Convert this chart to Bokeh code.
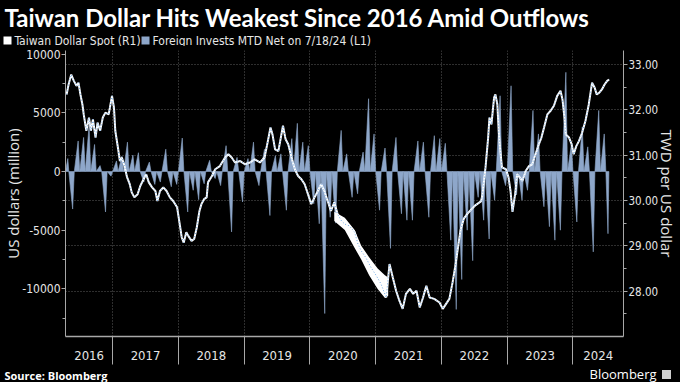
from bokeh.plotting import figure
from bokeh.models import (Range1d, LinearAxis, FixedTicker, Grid,
                          ColumnDataSource, CustomJSTickFormatter, PrintfTickFormatter)
from bokeh.core.properties import value
from bokeh.embed import file_html
from bokeh.resources import INLINE

# ---------------- data ----------------
TITLE = "Taiwan Dollar Hits Weakest Since 2016 Amid Outflows"
SERIES_TWD = "Taiwan Dollar Spot  (R1)"
SERIES_FLOW = "Foreign Invests MTD Net on 7/18/24 (L1)"
LEFT_LABEL = "US dollars (million)"
RIGHT_LABEL = "TWD per US dollar"
SOURCE = "Source: Bloomberg"
BRAND = "Bloomberg"

year_labels = ["2016", "2017", "2018", "2019", "2020", "2021", "2022", "2023", "2024"]
left_ticks = [-10000, -5000, 0, 5000, 10000]
left_minor = [-12500, -7500, -2500, 2500, 7500]
right_ticks = [28, 29, 30, 31, 32, 33]
right_minor = [27.5, 28.5, 29.5, 30.5, 31.5, 32.5]

x_start, x_end = 2016.283, 2024.768          # axis span (decimal years)
data_start, data_end = 2016.283, 2024.546    # 14 Apr 2016 .. 18 Jul 2024
left_lo, left_hi = -14058, 10307
right_lo, right_hi = 27.0, 33.31

flow_first_year, flow_first_month = 2016, 4
flow_mtd = [
    1100, -3200, 2600, 2900, 3900, 2300, 500, -3450, -400,
    900, 1300, 2500, 1400, 1600, -900, 800, -1100, -900, 1900, -1300, -1100,
    2850, -3450, -1600, -2400, -1050, 950, -600, -1200, 2200, -5150, 1200, -2600,
    1100, 2500, -1200, 1900, -3750, 1350, 1500, -3300, 2800, 4100, 2500, 2200,
    -2750, -4450, -12100, -3900, -4400, 3500, 1500, -2200, -1900, 1650, 6200, 3200,
    -3300, 2000, -6550, 2900, -3600, -4150, -4150, 2600, 2500, -3900, 3050, 2800,
    2400, -5850, -11750, -9200, -5000, -7600, -2200, -4150, -5750, -2450, 6450, -1200,
    7300, -2000, -2450, -1600, 5200, 3200, -3000, -4700, -5850, -5000, 8450, 2300,
    -4300, 3800, 2100, -6850, 5200, 3200, -5300,
]

twd_t = [
    2016.30, 2016.33, 2016.37, 2016.41, 2016.45, 2016.48, 2016.51, 2016.54, 2016.56, 2016.60,
    2016.64, 2016.67, 2016.70, 2016.74, 2016.77, 2016.81, 2016.85, 2016.89, 2016.94, 2016.99,
    2017.02, 2017.04, 2017.08, 2017.11, 2017.14, 2017.18, 2017.22, 2017.26, 2017.29, 2017.33,
    2017.38, 2017.42, 2017.47, 2017.51, 2017.55, 2017.60, 2017.65, 2017.68, 2017.72, 2017.77,
    2017.82, 2017.87, 2017.92, 2017.98,
    2018.02, 2018.05, 2018.08, 2018.12, 2018.15, 2018.20, 2018.24, 2018.28, 2018.32, 2018.35,
    2018.39, 2018.43, 2018.45, 2018.51, 2018.56, 2018.63, 2018.71, 2018.76, 2018.81, 2018.86,
    2018.94,
    2019.01, 2019.09, 2019.16, 2019.24, 2019.31, 2019.36, 2019.40, 2019.43, 2019.47, 2019.52,
    2019.59, 2019.63, 2019.67, 2019.72, 2019.77, 2019.82, 2019.87, 2019.92, 2019.97,
    2020.02, 2020.07, 2020.12, 2020.17, 2020.22, 2020.27, 2020.32, 2020.37, 2020.42, 2020.48,
    2020.53, 2020.60, 2020.68, 2020.73, 2020.78, 2020.85, 2020.93,
    2021.01, 2021.08, 2021.16, 2021.21, 2021.26, 2021.31, 2021.36, 2021.41, 2021.46, 2021.52,
    2021.57, 2021.62, 2021.67, 2021.72, 2021.77, 2021.82, 2021.89, 2021.97,
    2022.02, 2022.07, 2022.12, 2022.17, 2022.21, 2022.25, 2022.29, 2022.34, 2022.39, 2022.45,
    2022.52, 2022.60, 2022.62, 2022.67, 2022.71, 2022.73, 2022.76, 2022.80, 2022.82, 2022.85,
    2022.87, 2022.89, 2022.92, 2022.98,
    2023.02, 2023.05, 2023.08, 2023.12, 2023.15, 2023.19, 2023.23, 2023.28, 2023.33, 2023.38,
    2023.43, 2023.48, 2023.52, 2023.56, 2023.61, 2023.66, 2023.71, 2023.76, 2023.81, 2023.84,
    2023.87, 2023.89, 2023.94, 2023.98,
    2024.01, 2024.05, 2024.09, 2024.14, 2024.19, 2024.24, 2024.29, 2024.33, 2024.36, 2024.40,
    2024.44, 2024.48, 2024.52, 2024.55,
]
twd_v = [
    32.34, 32.56, 32.78, 32.64, 32.53, 32.60, 32.34, 32.12, 31.90, 31.54,
    31.83, 31.54, 31.79, 31.39, 31.72, 31.54, 31.83, 31.94, 31.90, 32.31,
    32.05, 31.54, 31.17, 30.87, 30.95, 30.76, 30.51, 30.36, 30.18, 30.07,
    30.14, 30.32, 30.47, 30.58, 30.40, 30.29, 30.21, 29.99, 30.21, 30.29,
    30.21, 30.07, 29.99, 29.85,
    29.48, 29.19, 29.07, 29.30, 29.22, 29.11, 29.15, 29.41, 29.77, 29.92,
    30.03, 30.07, 30.40, 30.54, 30.69, 30.76, 30.95, 31.02, 30.95, 30.84,
    30.87,
    30.80, 30.84, 30.91, 30.84, 30.95, 31.31, 31.61, 31.46, 31.13, 31.09,
    31.65, 31.35, 31.24, 30.95, 30.69, 30.54, 30.47, 30.36, 30.14,
    29.92, 30.07, 30.21, 30.36, 30.21, 29.99, 29.77, 29.96, 29.70, 29.55,
    29.48, 29.44, 29.30, 29.04, 28.89, 28.74, 28.52,
    28.34, 28.16, 27.86, 28.60, 28.30, 28.01, 27.79, 27.61, 27.94, 28.05,
    27.94, 28.01, 27.64, 27.86, 28.12, 27.86, 27.83, 27.75,
    27.61, 27.72, 27.83, 28.20, 28.55, 28.95, 29.35, 29.60, 29.70, 29.80,
    29.90, 29.98, 30.10, 30.73, 31.39, 31.83, 31.68, 32.27, 32.34, 32.12,
    31.54, 31.17, 30.73, 30.69,
    30.51, 30.21, 29.75, 30.14, 30.58, 30.51, 30.43, 30.65, 30.76, 30.80,
    31.02, 31.24, 31.39, 31.61, 31.90, 31.98, 32.09, 32.31, 32.42, 32.23,
    31.83, 31.46, 31.39, 31.24,
    31.02, 31.20, 31.31, 31.50, 31.76, 32.12, 32.60, 32.49, 32.34, 32.38,
    32.45, 32.56, 32.64, 32.67,
]
# intraday high/low spread that shows as a thick white band in 2020-21
band_t = [2020.37, 2020.53, 2020.68, 2020.78, 2020.90, 2021.03, 2021.14, 2021.19]
band_hi = [29.75, 29.62, 29.35, 29.00, 28.75, 28.50, 28.35, 28.30]
band_lo = [29.55, 29.35, 28.95, 28.70, 28.35, 28.05, 27.85, 27.90]

# ---------------- styling / layout ----------------
W = 680
HEAD_H, MAIN_H, FOOT_H = 46, 320, 16
FL, FR = 65, 625            # frame left/right (px)
FT, FB = 4, 290             # frame top/bottom inside main figure (px)
BG = "#000000"
FLOW_C = "#8ea7ca"
TWD_C = "#ffffff"
TWD_ACC = "#4d93de"
GRID_C = "#5c5c5c"
AXIS_C = "#a8a8a8"
TEXT_C = "#e6e6e6"
NARROW = "'Liberation Sans Narrow', 'DejaVu Sans Condensed', 'Arial Narrow', sans-serif"
HEAD = "Open Sans"
TITLE_F = "Lato"


def blank(h):
    f = figure(width=W, height=h, output_backend="svg", toolbar_location=None,
               x_range=Range1d(0, W), y_range=Range1d(h, 0),
               x_axis_location=None, y_axis_location=None, min_border=0,
               background_fill_color=BG, border_fill_color=BG, outline_line_color=None)
    f.grid.visible = False
    return f


def txt(f, s, x, y, size, color=TEXT_C, font=HEAD, style="normal", align="left"):
    f.text(x=[x], y=[y], text=[s], text_font=value(font), text_font_size=value(size),
           text_font_style=style, text_color=color, text_align=align,
           text_baseline="middle")


# ---- header: title + legend ----
head = blank(HEAD_H)
txt(head, TITLE, 4, 17, "24px", color="#ffffff", font=TITLE_F, style="bold")
head.scatter(x=[7], y=[40], marker="square", size=8, fill_color=TWD_C, line_color=None)
txt(head, SERIES_TWD, 14, 40, "12px", font=NARROW)
head.scatter(x=[145], y=[40], marker="square", size=8, fill_color=FLOW_C, line_color=None)
txt(head, SERIES_FLOW, 152, 40, "12px", font=NARROW)

# ---- footer ----
foot = blank(FOOT_H)
txt(foot, SOURCE, 4, 9, "11px", color="#ffffff", style="bold")
txt(foot, BRAND, 656, 7.5, "13px", color="#ffffff", align="right")
foot.scatter(x=[666], y=[8], marker="square", size=9, fill_color="#cfcfcf", line_color=None)

# ---- main chart ----
p = figure(width=W, height=MAIN_H, output_backend="svg", toolbar_location=None,
           x_range=Range1d(x_start, x_end), y_range=Range1d(left_lo, left_hi),
           min_border_left=FL, min_border_right=W - FR,
           min_border_top=FT, min_border_bottom=MAIN_H - FB,
           background_fill_color=BG, border_fill_color=BG, outline_line_color=None)
p.extra_y_ranges = {"twd": Range1d(right_lo, right_hi)}

# month-to-date flow spikes (one spike per month)
xs, ys = [], []
yy, mm = flow_first_year, flow_first_month
for v in flow_mtd:
    s = max(yy + (mm - 1) / 12.0, data_start)
    e = min(yy + mm / 12.0, data_end)
    tip = s + 0.7 * (e - s)
    xs.append([s, tip, e])
    ys.append([0, v, 0])
    mm += 1
    if mm > 12:
        mm = 1
        yy += 1
p.patches(xs, ys, fill_color=FLOW_C, line_color=FLOW_C, line_width=0.6)

# TWD spot
p.varea(x=band_t, y1=band_lo, y2=band_hi, fill_color=TWD_C, y_range_name="twd")
src = ColumnDataSource(dict(t=twd_t, v=twd_v))
p.line("t", "v", source=src, line_color=TWD_C, line_width=2.0, y_range_name="twd")
p.line("t", "v", source=src, line_color=TWD_ACC, line_width=0.9, line_alpha=0.9,
       line_dash="1 2", y_range_name="twd")

# x axis: year labels centred in each (visible) year, separators at year starts
mids = []
for lab in year_labels:
    y0 = max(int(lab), x_start)
    y1 = min(int(lab) + 1, x_end)
    mids.append((y0 + y1) / 2.0)
bounds = [int(l) for l in year_labels[1:]]

xa = p.xaxis[0]
xa.ticker = FixedTicker(ticks=mids, minor_ticks=bounds)
xa.formatter = CustomJSTickFormatter(args=dict(labels=year_labels),
                                     code="return labels[Math.floor(tick) - 2016];")
xa.major_tick_out = 0
xa.major_tick_in = 0
xa.minor_tick_out = 28
xa.minor_tick_in = 0
xa.minor_tick_line_color = AXIS_C
xa.axis_line_color = AXIS_C
xa.axis_line_width = 1.5
xa.major_label_standoff = -14
xa.major_label_text_font = NARROW
xa.major_label_text_font_size = "13px"
xa.major_label_text_color = TEXT_C

plain = CustomJSTickFormatter(code="return tick.toFixed(0);")

ya = p.yaxis[0]
ya.ticker = FixedTicker(ticks=left_ticks, minor_ticks=left_minor)
ya.formatter = plain
ya.major_tick_out = 4
ya.major_tick_in = 0
ya.minor_tick_out = 3
ya.minor_tick_in = 0
ya.major_tick_line_color = AXIS_C
ya.minor_tick_line_color = AXIS_C
ya.axis_line_color = AXIS_C
ya.major_label_standoff = 1
ya.major_label_text_font = NARROW
ya.major_label_text_font_size = "12px"
ya.major_label_text_color = TEXT_C
ya.axis_label = LEFT_LABEL
ya.axis_label_text_font = HEAD
ya.axis_label_text_font_style = "normal"
ya.axis_label_text_font_size = "15px"
ya.axis_label_text_color = TEXT_C
ya.axis_label_standoff = -4

ra = LinearAxis(y_range_name="twd",
                ticker=FixedTicker(ticks=right_ticks, minor_ticks=right_minor),
                formatter=PrintfTickFormatter(format="%.2f"))
ra.major_tick_out = 4
ra.major_tick_in = 0
ra.minor_tick_out = 3
ra.minor_tick_in = 0
ra.major_tick_line_color = AXIS_C
ra.minor_tick_line_color = AXIS_C
ra.axis_line_color = AXIS_C
ra.major_label_standoff = 1
ra.major_label_text_font = NARROW
ra.major_label_text_font_size = "11.5px"
ra.major_label_text_color = TEXT_C
ra.axis_label = RIGHT_LABEL
ra.axis_label_text_font = HEAD
ra.axis_label_text_font_style = "normal"
ra.axis_label_text_font_size = "15px"
ra.axis_label_text_color = TEXT_C
ra.axis_label_standoff = -4
p.add_layout(ra, "right")

# grids
p.ygrid.visible = False
p.xgrid.ticker = FixedTicker(ticks=bounds)
p.xgrid.grid_line_color = GRID_C
p.xgrid.grid_line_dash = "1 2"
p.add_layout(Grid(dimension=1, ticker=FixedTicker(ticks=right_ticks), y_range_name="twd",
                  grid_line_color=GRID_C, grid_line_dash="1 2"))

html = file_html([head, p, foot], INLINE)
html = html.replace("<head>", "<head><style>html,body{margin:0;padding:0;background:#000;overflow:hidden}</style>", 1)
open("out.html", "w").write(html)
